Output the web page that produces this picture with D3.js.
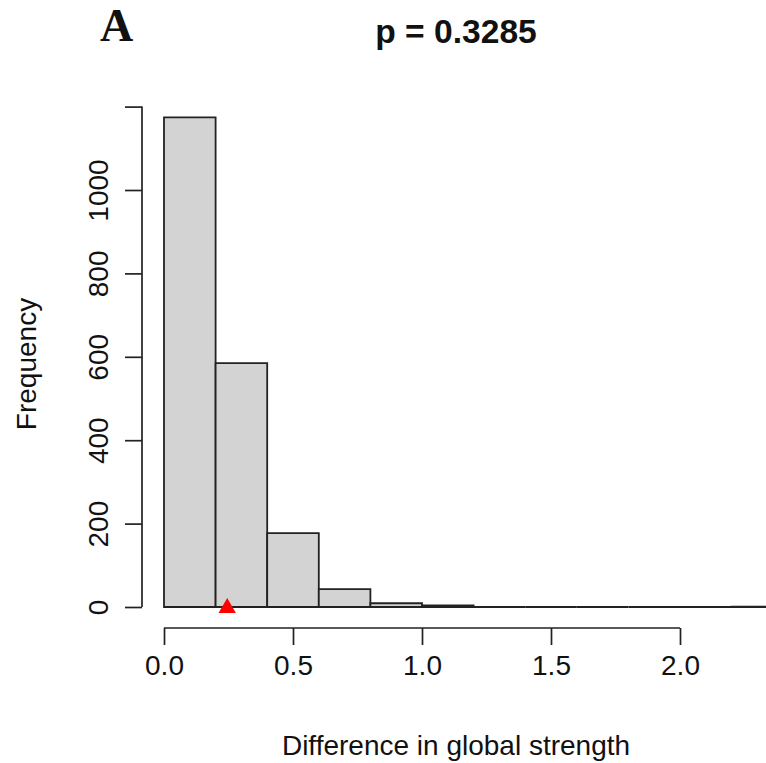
<!DOCTYPE html>
<html><head><meta charset="utf-8">
<script src="https://cdn.jsdelivr.net/npm/d3@7"></script>
<style>body{margin:0;background:#fff}svg{display:block}</style>
</head><body>
<script>
const binStarts = [0.0,0.2,0.4,0.6,0.8,1.0,1.2,1.4,1.6,1.8,2.0,2.2];
const binWidth = 0.2;
const counts = [1174,585,177,43,9,4,0,0,0,0,0,1];
const xTicks = [0.0,0.5,1.0,1.5,2.0];
const yTicks = [0,200,400,600,800,1000,1200];
const yTickLabels = ["0","200","400","600","800","1000",""];
const observed = 0.245;
const title = "p = 0.3285";
const panel = "A";
const xLabel = "Difference in global strength";
const yLabel = "Frequency";

const W=766,H=763;
const svg=d3.select("body").append("svg").attr("width",W).attr("height",H);
const x=d3.scaleLinear().domain([0,2]).range([164,680]);
const y=d3.scaleLinear().domain([0,1000]).range([607,190]);
const font="Liberation Sans, Arial, sans-serif";
const fs=28;

svg.append("g").selectAll("path").data(binStarts.map((s,i)=>({s,c:counts[i]}))).join("path")
  .attr("d",d=>{const x0=x(d.s),x1=x(d.s+binWidth),y0=y(0),y1=y(d.c);return `M${x0},${y0}V${y1}H${x1}V${y0}Z`;})
  .attr("fill","#d3d3d3").attr("stroke","#222").attr("stroke-width",1.8).attr("stroke-linejoin","miter");

// x axis
const xa=svg.append("g").attr("transform","translate(0,628)")
  .call(d3.axisBottom(x).tickValues(xTicks).tickFormat(d3.format(".1f")).tickSize(17));
xa.select(".domain").attr("stroke","#222").attr("stroke-width",1.7).attr("d",`M${x(0)},0H${x(2)}`);
xa.selectAll(".tick line").attr("stroke","#222").attr("stroke-width",1.7);
xa.selectAll(".tick text").attr("font-family",font).attr("font-size",fs).attr("fill","#111")
  .attr("y",47).attr("dy",0);

// y axis
const ya=svg.append("g").attr("transform","translate(142,0)")
  .call(d3.axisLeft(y).tickValues(yTicks).tickFormat((d,i)=>yTickLabels[i]).tickSize(17));
ya.select(".domain").attr("stroke","#222").attr("stroke-width",1.7).attr("d",`M0,${y(0)}V${y(1200)}`);
ya.selectAll(".tick line").attr("stroke","#222").attr("stroke-width",1.7);
ya.selectAll(".tick text").attr("font-family",font).attr("font-size",fs).attr("fill","#111")
  .attr("x",0).attr("y",0).attr("dy",0).attr("transform","translate(-34,0) rotate(-90)").attr("text-anchor","middle");

// observed marker
svg.append("path").attr("d",d3.symbol(d3.symbolTriangle,130)()).attr("fill","#ff0000")
  .attr("transform",`translate(${x(observed)},${y(0)+1})`);

svg.append("text").attr("x",456).attr("y",43).attr("text-anchor","middle")
  .attr("font-family",font).attr("font-weight","bold").attr("font-size",33.6).attr("fill","#111").text(title);
svg.append("text").attr("x",100).attr("y",41)
  .attr("font-family","Liberation Serif, Times New Roman, serif").attr("font-weight","bold").attr("font-size",46).attr("fill","#111").text(panel);
svg.append("text").attr("x",456).attr("y",755).attr("text-anchor","middle")
  .attr("font-family",font).attr("font-size",fs).attr("fill","#111").text(xLabel);
svg.append("text").attr("transform","translate(36,364) rotate(-90)").attr("text-anchor","middle")
  .attr("font-family",font).attr("font-size",fs).attr("fill","#111").text(yLabel);
</script>
</body></html>
